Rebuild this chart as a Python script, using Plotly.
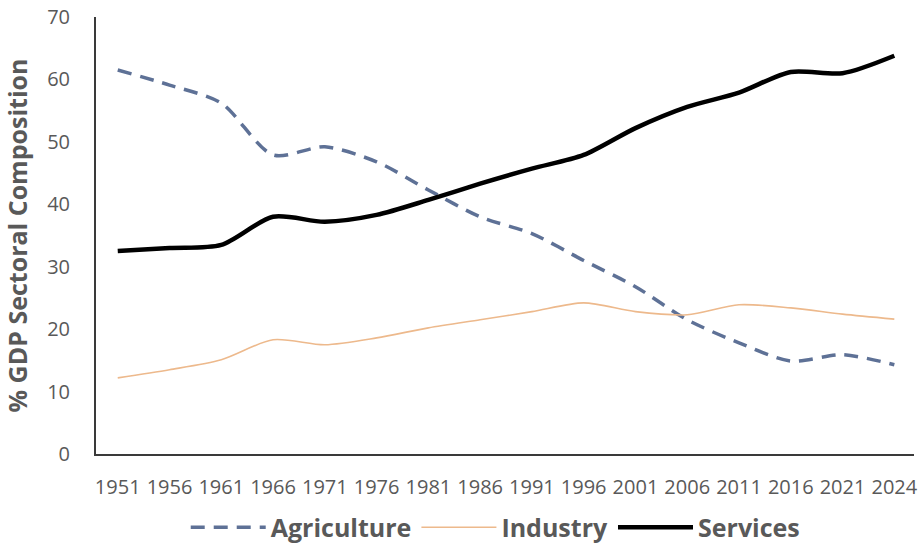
import plotly.graph_objects as go

years = ["1951", "1956", "1961", "1966", "1971", "1976", "1981", "1986",
         "1991", "1996", "2001", "2006", "2011", "2016", "2021", "2024"]
agriculture = [61.5, 59.1, 56.2, 47.9, 49.2, 46.8, 42.3, 38.0,
               35.3, 31.0, 26.8, 21.5, 17.8, 14.9, 15.9, 14.3]
industry = [12.2, 13.5, 15.1, 18.3, 17.5, 18.6, 20.2, 21.5,
            22.8, 24.2, 22.8, 22.3, 23.9, 23.4, 22.4, 21.6]
services = [32.5, 33.0, 33.5, 38.0, 37.2, 38.3, 40.7, 43.3,
            45.7, 47.9, 52.2, 55.6, 57.9, 61.2, 61.0, 63.8]

GRAY = "#595959"
FONT = "Open Sans"

fig = go.Figure()
fig.add_trace(go.Scatter(
    x=years, y=agriculture, name="Agriculture", mode="lines",
    line=dict(color="#5E7196", width=3.5, dash="14px,9px", shape="spline", smoothing=0.8),
))
fig.add_trace(go.Scatter(
    x=years, y=industry, name="Industry", mode="lines",
    line=dict(color="#EDB98C", width=1.6, shape="spline", smoothing=0.8),
))
fig.add_trace(go.Scatter(
    x=years, y=services, name="Services", mode="lines",
    line=dict(color="#000000", width=4.5, shape="spline", smoothing=0.8),
))

fig.update_layout(
    width=918, height=546,
    margin=dict(l=96, r=0, t=17, b=92),
    paper_bgcolor="white", plot_bgcolor="white",
    font=dict(family=FONT, color=GRAY),
    showlegend=True,
    legend=dict(
        orientation="h", xref="container", yref="container",
        x=0.54, xanchor="center", y=0.034, yanchor="middle",
        font=dict(family=FONT, size=25, color=GRAY, weight="bold"),
        itemwidth=75, tracegroupgap=0,
    ),
    xaxis=dict(
        type="category", range=[-0.42, 15.38],
        showgrid=False, zeroline=False,
        showline=True, linecolor="#3A3A3A", linewidth=2,
        ticks="", tickangle=0, ticklabelstandoff=14,
        tickfont=dict(family=FONT, size=20, color=GRAY),
    ),
    yaxis=dict(
        range=[0, 70], dtick=10,
        showgrid=False, zeroline=False,
        showline=True, linecolor="#3A3A3A", linewidth=2,
        ticks="", ticklabelstandoff=20,
        tickfont=dict(family=FONT, size=20, color=GRAY),
        title=dict(text="% GDP Sectoral Composition",
                   font=dict(family=FONT, size=25, color=GRAY, weight="bold"),
                   standoff=12),
        automargin=False,
    ),
)

fig.write_html("out.html")
